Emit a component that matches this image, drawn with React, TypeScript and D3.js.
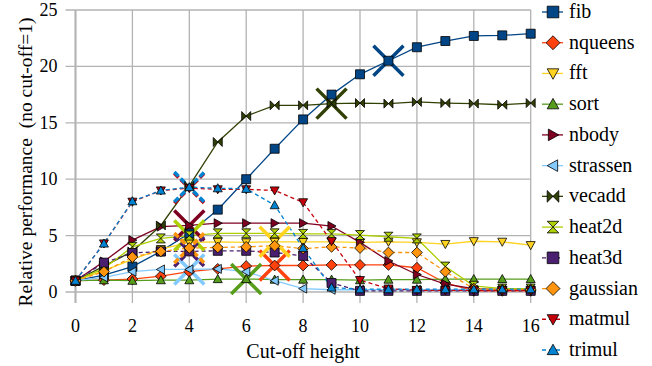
import React from "react";
import * as d3 from "d3";

// cut-off heights on the x axis
const heights = [0, 1, 2, 3, 4, 5, 6, 7, 8, 9, 10, 11, 12, 13, 14, 15, 16];

const fib = [1, 1.5, 2.25, 3.6, 5.2, 7.3, 10.0, 12.7, 15.3, 17.5, 19.3, 20.5, 21.7, 22.25, 22.7, 22.75, 22.9];
const nqueens = [1, 1.05, 1.15, 1.4, 1.8, 2.05, 2.3, 2.35, 2.35, 2.4, 2.4, 2.4, 2.15, 0.8, 0.1, 0.1, 0.1];
const fft = [1, 1.9, 2.9, 3.8, 4.4, 4.45, 4.4, 4.45, 4.45, 4.45, 4.4, 4.45, 4.4, 4.25, 4.5, 4.45, 4.15];
const sort = [1, 1.05, 1.0, 1.05, 1.05, 1.15, 1.15, 1.1, 1.1, 1.1, 1.05, 1.1, 1.1, 1.15, 1.15, 1.15, 1.15];
const nbody = [1, 2.7, 4.6, 5.8, 5.9, 6.1, 6.1, 6.1, 6.1, 5.85, 4.4, 2.75, 1.55, 0.7, 0.3, 0.2, 0.2];
const strassen = [1, 1.3, 1.8, 2.0, 2.0, 2.05, 1.8, 1.0, 0.3, 0.2, 0.2, 0.2, 0.2, 0.2, 0.2, 0.2, 0.2];
const vecadd = [1, 2.3, 3.6, 5.9, 9.4, 13.3, 15.6, 16.55, 16.55, 16.7, 16.75, 16.7, 16.85, 16.75, 16.7, 16.6, 16.75];
const heat2d = [1, 2.1, 4.0, 4.75, 5.0, 5.2, 5.2, 5.2, 5.15, 5.15, 5.05, 4.9, 4.75, 2.25, 0.55, 0.3, 0.3];
const heat3d = [1, 2.6, 3.45, 3.6, 3.6, 3.65, 3.65, 3.5, 3.2, 0.8, 0.1, 0.1, 0.1, 0.1, 0.1, 0.1, 0.1];
const gaussian = [1, 1.8, 3.1, 3.6, 3.9, 3.95, 4.0, 4.1, 3.85, 4.0, 3.9, 3.5, 3.5, 1.8, 0.3, 0.2, 0.2];
const matmul = [1, 4.3, 8.0, 9.0, 9.2, 9.1, 9.1, 9.0, 7.95, 4.5, 1.05, 0.3, 0.15, 0.15, 0.15, 0.15, 0.15];
const trimul = [1, 4.3, 8.05, 9.0, 9.3, 9.2, 9.15, 7.7, 3.9, 0.4, 0.25, 0.25, 0.25, 0.25, 0.25, 0.25, 0.25];

const names = ["fib", "nqueens", "fft", "sort", "nbody", "strassen", "vecadd", "heat2d", "heat3d", "gaussian", "matmul", "trimul"];
const values = [fib, nqueens, fft, sort, nbody, strassen, vecadd, heat2d, heat3d, gaussian, matmul, trimul];
// best cut-off height for each benchmark (big cross)
const best = [11, 7, 7, 6, 4, 4, 9, 4, 4, 4, 4, 4];

const colors = ["#004586", "#ff420e", "#ffd320", "#579d1c", "#7e0021", "#83caff", "#314004", "#aecf00", "#4b1f6f", "#ff950e", "#c5000b", "#0084d1"];
const shapes = ["square", "diamond", "down", "up", "right", "left", "bowtie", "hourglass", "square", "diamond", "down", "up"];
const dashed = [false, false, false, false, false, false, false, false, true, true, true, true];

const yTicks = [0, 5, 10, 15, 20, 25];
const xTicks = [0, 2, 4, 6, 8, 10, 12, 14, 16];

const W = 652;
const H = 366;
const margin = { left: 75.5, top: 10, right: 121.3, bottom: 74 };

function markerPath(shape: string, r: number) {
  switch (shape) {
    case "square":
      return `M${-r},${-r}H${r}V${r}H${-r}Z`;
    case "diamond":
      return `M0,${-r * 1.2}L${r * 1.2},0L0,${r * 1.2}L${-r * 1.2},0Z`;
    case "down":
      return `M${-r},${-r * 0.8}L${r},${-r * 0.8}L0,${r}Z`;
    case "up":
      return `M${-r},${r * 0.8}L${r},${r * 0.8}L0,${-r}Z`;
    case "right":
      return `M${-r * 0.8},${-r}L${r},0L${-r * 0.8},${r}Z`;
    case "left":
      return `M${r * 0.8},${-r}L${-r},0L${r * 0.8},${r}Z`;
    case "bowtie":
      return `M${-r},${-r}L${r},${r}L${r},${-r}L${-r},${r}Z`;
    case "hourglass":
      return `M${-r},${-r}L${r},${-r}L${-r},${r}L${r},${r}Z`;
  }
  return "";
}

export default function App() {
  const x = d3.scaleLinear().domain([0, 16]).range([margin.left, W - margin.right]);
  const y = d3.scaleLinear().domain([0, 25]).range([H - margin.bottom, margin.top]);
  const line = d3
    .line<number>()
    .x((_, i) => x(heights[i]))
    .y((d) => y(d));

  const legendY = d3.scalePoint<string>().domain(names).range([12, 350]);

  return (
    <svg width={W} height={H} style={{ position: "absolute", left: 0, top: 0, background: "#fff" }}>
      {/* grid */}
      {yTicks.map((t) => (
        <g key={"y" + t}>
          <line x1={x(0) - 10} x2={x(16)} y1={y(t)} y2={y(t)} stroke="#b3b3b3" strokeWidth={1.3} />
          <text x={x(0) - 18} y={y(t) + 6} textAnchor="end" fontSize={18} fill="#000">
            {t}
          </text>
        </g>
      ))}
      {xTicks.map((t) => (
        <g key={"x" + t}>
          <line x1={x(t)} x2={x(t)} y1={y(25)} y2={y(0) + 11} stroke="#b3b3b3" strokeWidth={1.3} />
          <text x={x(t)} y={y(0) + 40} textAnchor="middle" fontSize={18} fill="#000">
            {t}
          </text>
        </g>
      ))}
      <line x1={x(0)} x2={x(0)} y1={y(25)} y2={y(0) + 11} stroke="#b3b3b3" strokeWidth={2} />

      {/* series lines */}
      {values.map((v, s) => (
        <path
          key={"l" + names[s]}
          d={line(v) || ""}
          fill="none"
          stroke={colors[s]}
          strokeWidth={1.3}
          strokeDasharray={dashed[s] ? "4,3" : undefined}
        />
      ))}

      {/* best cut-off crosses */}
      {values.map((v, s) => {
        const cx = x(heights[best[s]]);
        const cy = y(v[best[s]]);
        const r = 15;
        return (
          <path
            key={"b" + names[s]}
            d={`M${cx - r},${cy - r}L${cx + r},${cy + r}M${cx - r},${cy + r}L${cx + r},${cy - r}`}
            stroke={colors[s]}
            strokeWidth={3.5}
            strokeDasharray={dashed[s] ? "6,3" : undefined}
            fill="none"
          />
        );
      })}

      {/* markers */}
      {values.map((v, s) => (
        <g key={"m" + names[s]}>
          {v.map((d, i) => (
            <path
              key={i}
              d={markerPath(shapes[s], 4.5)}
              transform={`translate(${x(heights[i])},${y(d)})`}
              fill={colors[s]}
              stroke="#000"
              strokeWidth={0.8}
            />
          ))}
        </g>
      ))}

      {/* legend */}
      {names.map((n, s) => {
        const ly = legendY(n) as number;
        return (
          <g key={"lg" + n}>
            <line x1={542} x2={563} y1={ly} y2={ly} stroke={colors[s]} strokeWidth={1.3} strokeDasharray={dashed[s] ? "4,3" : undefined} />
            <path d={markerPath(shapes[s], 5.8)} transform={`translate(553,${ly})`} fill={colors[s]} stroke="#000" strokeWidth={0.8} />
            <text x={569} y={ly + 6} fontSize={20} fill="#000">
              {n}
            </text>
          </g>
        );
      })}

      {/* axis titles */}
      <text x={(x(0) + x(16)) / 2} y={358} textAnchor="middle" fontSize={20} fill="#000">
        Cut-off height
      </text>
      <text transform={`translate(32,${162}) rotate(-90)`} textAnchor="middle" fontSize={19.5} fill="#000">
        {"Relative performance\u00a0 (no cut-off=1)"}
      </text>
    </svg>
  );
}
